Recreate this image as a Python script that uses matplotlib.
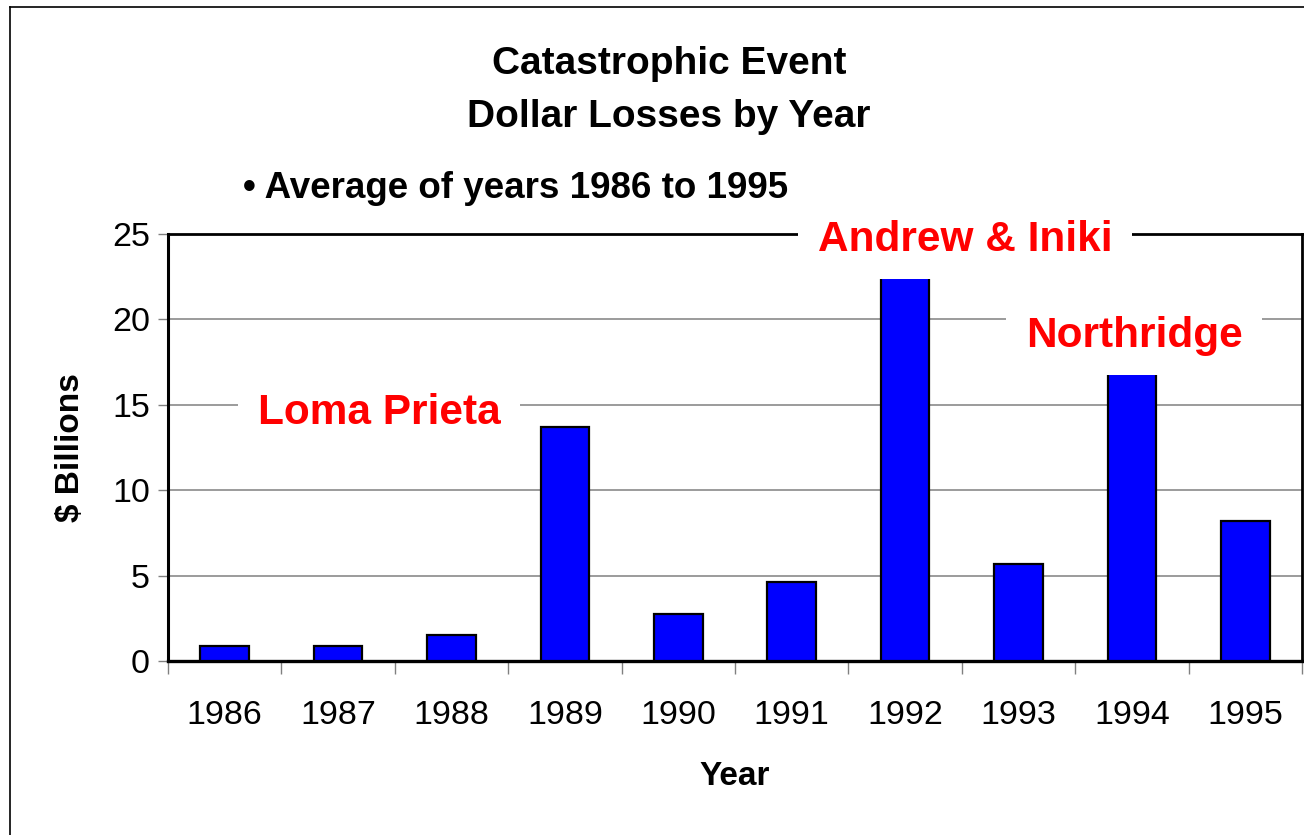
import matplotlib
matplotlib.use("Agg")
import matplotlib.pyplot as plt
from matplotlib.lines import Line2D
import numpy as np

years = ["1986", "1987", "1988", "1989", "1990", "1991", "1992", "1993", "1994", "1995"]
losses = [0.85, 0.85, 1.55, 13.7, 2.75, 4.65, 22.7, 5.65, 16.85, 8.2]
yticks = [0, 5, 10, 15, 20, 25]
title_lines = ["Catastrophic Event", "Dollar Losses by Year"]
subtitle = "\u2022 Average of years 1986 to 1995"
events = ["Loma Prieta", "Andrew & Iniki", "Northridge"]
event_pos = [(1.36, 14.5), (6.53, 24.65), (8.02, 19.05)]

plt.rcParams['font.family'] = ['Liberation Sans', 'DejaVu Sans']

W, H = 1304, 835
fig = plt.figure(figsize=(W / 100, H / 100), dpi=100)
ax = fig.add_axes([168 / W, 1 - 661 / H, (1302 - 168) / W, (661 - 234) / H])

x = np.arange(len(years))
ax.bar(x, losses, width=0.43, color="#0000FF", edgecolor="black", linewidth=1.6, zorder=3)

ax.set_xlim(-0.5, len(years) - 0.5)
ax.set_ylim(0, 25)
ax.set_yticks(yticks)
ax.set_yticklabels([str(v) for v in yticks], fontsize=24.5)
ax.set_xticks(x)
ax.set_xticklabels(years, fontsize=24.5)
ax.set_xticks(np.arange(-0.5, len(years)), minor=True)
ax.tick_params(axis="x", which="major", length=0, pad=28)
ax.tick_params(axis="x", which="minor", length=9, width=1, color="#808080", direction="out")
ax.tick_params(axis="y", which="major", length=7, width=1, color="#808080", pad=6)

ax.yaxis.grid(True, color="#808080", linewidth=1.1, zorder=0)
ax.set_axisbelow(True)
for s in ax.spines.values():
    s.set_color("black")
    s.set_linewidth(2.0)
ax.spines["bottom"].set_linewidth(2.4)
ax.spines["left"].set_linewidth(2.2)

ax.set_ylabel("$ Billions", fontsize=24, fontweight="bold", labelpad=19)
ax.set_xlabel("Year", fontsize=24, fontweight="bold", labelpad=22)

for name, (ex, ey) in zip(events, event_pos):
    ax.text(ex, ey, name, color="#FF0000", fontsize=30.5, fontweight="bold",
            ha="center", va="center", zorder=5, clip_on=False,
            bbox=dict(facecolor="white", edgecolor="none", pad=14))

fig.text(669 / W, 1 - 64 / H, title_lines[0], fontsize=28, fontweight="bold",
         ha="center", va="center")
fig.text(669 / W, 1 - 117 / H, title_lines[1], fontsize=28, fontweight="bold",
         ha="center", va="center")
fig.text(243 / W, 1 - 189 / H, subtitle, fontsize=26.5, fontweight="bold",
         ha="left", va="center")

fig.add_artist(Line2D([10 / W, 10 / W], [0, 1 - 7 / H], color="black", linewidth=1.2,
                      transform=fig.transFigure))
fig.add_artist(Line2D([10 / W, 1], [1 - 7 / H, 1 - 7 / H], color="black", linewidth=1.2,
                      transform=fig.transFigure))

fig.savefig("out.png", dpi=100, facecolor="white")
